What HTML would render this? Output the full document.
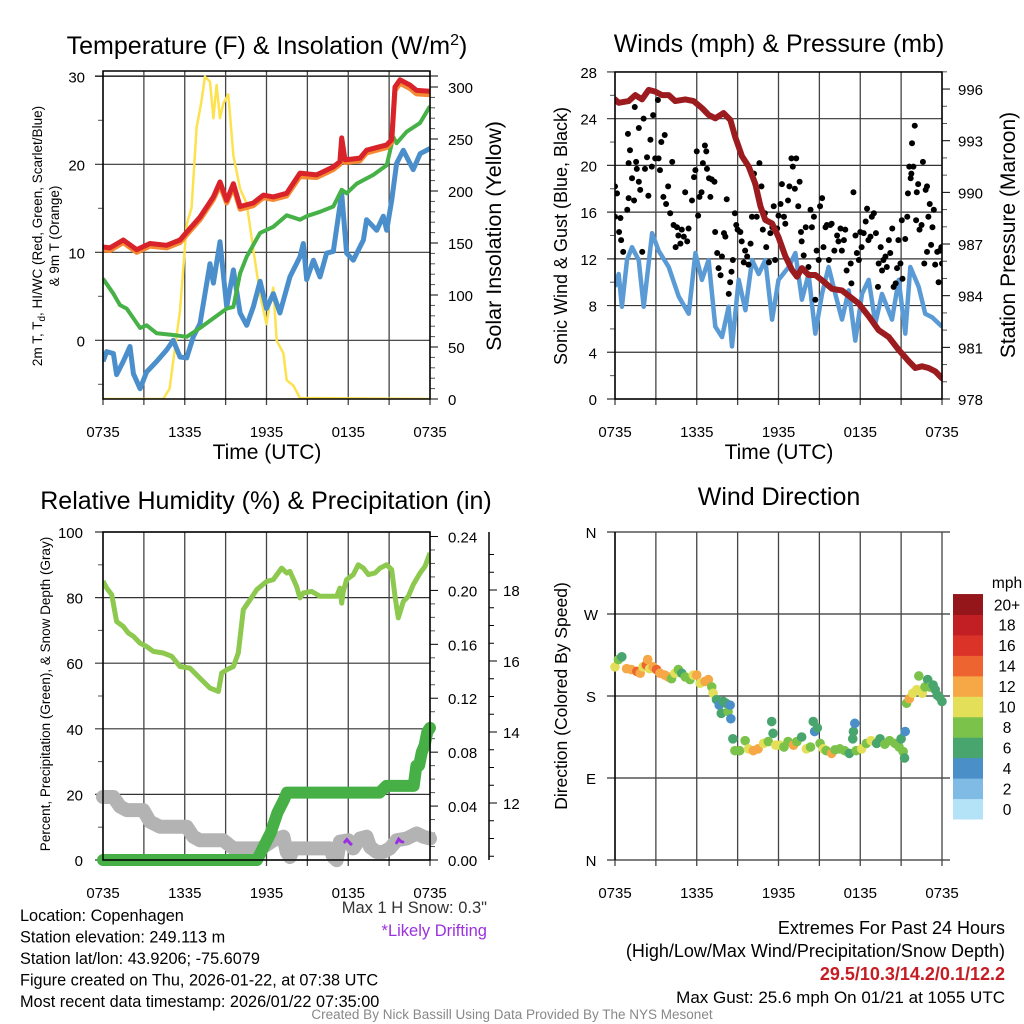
<!DOCTYPE html>
<html><head><meta charset="utf-8"><style>
html,body{margin:0;padding:0;background:#fff;}
svg{display:block;font-family:"Liberation Sans",Arial,sans-serif;}
</style></head><body>
<svg id="root" width="1024" height="1024" viewBox="0 0 1024 1024" xmlns="http://www.w3.org/2000/svg">
<rect x="0" y="0" width="1024" height="1024" fill="#fff"/>
</svg>
<script>
// ---------- DATA ----------
const xTickLabels = ["0735","1335","1935","0135","0735"];
// Panel 1 (hours since 0735)
const tempH = [0,0.51,1.49,2.47,3.45,4.67,5.65,6.14,7.12,8.1,8.59,9.08,9.57,10.06,11.03,11.77,12.5,13.48,14.46,15.68,16.9,17.39,17.52,17.76,18.86,19.35,20.82,21.19,21.43,21.8,22.53,23.02,24];
const tempV = [10.6,10.5,11.4,10.3,11,10.8,11.4,12.3,14,16.3,18,15.9,17.8,15.2,15.6,16.5,16.3,16.7,19,18.8,19.7,20.3,23,20.5,20.7,21.6,22.2,22.8,28.8,29.6,29,28.4,28.3];
const temp9mV = [10.3,10.2,11.1,10.0,10.7,10.5,11.1,12.0,13.7,16.0,17.6,15.6,17.4,14.9,15.3,16.2,16.0,16.4,18.6,18.5,19.4,20.0,22.4,20.2,20.4,21.3,21.9,22.5,28.4,29.2,28.6,28.0,27.9];
const dewH = [0,0.76,1.25,1.74,2.72,3.2,3.94,5.16,6.14,7.12,8.1,9.08,9.57,10.06,10.55,11.53,12.5,13.48,14.46,14.95,15.93,16.9,17.52,17.88,18.62,19.84,20.82,21.31,21.55,22.29,23.27,24];
const dewV = [7.0,5.3,4.0,3.6,1.4,1.7,0.8,0.6,0.4,1.4,2.5,3.6,3.8,7.6,9.5,12.2,12.9,14.2,13.7,14.1,14.6,15.2,17.1,16.7,17.8,18.8,19.9,23.1,22.4,23.7,24.7,26.6];
const wcH = [0,0.27,0.76,1.0,1.49,1.98,2.23,2.72,3.2,3.94,4.67,5.16,5.65,6.14,6.63,7.12,7.85,8.1,8.59,9.08,9.57,10.06,10.55,11.03,11.53,12.0,12.5,12.98,13.72,14.46,14.7,14.95,15.44,15.93,16.41,16.9,17.52,17.88,18.37,19.11,19.35,20.09,20.57,20.82,21.19,21.55,22.04,22.77,23.27,24];
const wcV = [-2.4,-1.3,-1.5,-3.9,-2.4,-0.7,-3.8,-5.5,-3.6,-2.4,-1.1,0,-1.9,-2.0,0.4,1.9,8.7,6.5,11.2,3.8,8,3.1,1.7,3.8,6.7,3.6,5.3,3.1,7.2,9.5,11,6.9,9.1,7.2,9.9,10.1,16.7,9.9,9.1,11.4,13.7,12.5,14.1,12.5,15.9,20.1,21.6,19.4,21.2,21.8];
const solarH = [0,4.42,4.89,5.16,5.65,6.14,6.5,6.87,7.24,7.48,7.85,8.1,8.34,8.59,8.83,9.2,9.57,10.06,10.55,11.03,11.53,12.0,12.26,12.5,12.75,13.24,13.48,13.97,14.46,24];
const solarV = [0,0,10,37,85,168,184,261,287,310,305,270,302,270,284,293,234,202,188,144,100,72,94,107,56,44,18,13,1,0];
// Panel 2
const windH = [0,0.27,0.51,0.88,1.25,1.74,2.11,2.72,3.2,3.94,4.67,5.41,5.9,6.38,6.87,7.36,7.85,8.34,8.59,9.08,9.57,10.06,10.55,11.03,11.53,12.0,12.75,13.24,13.72,14.21,14.7,15.19,15.68,16.17,16.66,17.15,17.64,18.13,18.62,19.11,19.6,20.33,20.82,21.31,21.67,22.29,22.77,23.27,24];
const windV = [9.6,10.7,7.9,11.9,13,11.9,7.9,14.2,12.7,11.3,8.8,7.3,12.5,10.2,11.9,6.2,5.3,7.9,4.5,10.2,7.6,11.9,10.7,11.9,6.8,10.2,11.3,12.5,8.5,10.7,5.6,9,11.3,9,6.8,9.3,5,9,10.2,6.5,9,6.8,10.2,5.6,11.3,9.6,7.3,7,6.2];
const gustH = [0,0.15,0,0.4,0.3,0.45,0.6,0.9,1.0,1.0,1.1,0.95,1.25,1.4,1.45,1.55,1.6,1.75,1.85,1.75,2.0,2.1,2.2,2.35,2.45,2.6,2.7,2.8,2.95,3.15,3.2,3.3,3.4,3.55,3.65,3.75,3.9,4.05,4.2,4.3,4.45,4.55,4.65,4.8,4.9,5.05,5.15,5.3,5.4,5.65,5.8,5.9,6.0,6.1,6.2,6.35,6.45,6.6,6.7,6.75,6.9,7.0,7.1,7.3,7.35,7.5,7.6,7.75,7.85,8.0,8.1,8.2,8.35,8.45,8.55,8.65,8.8,8.9,9.0,9.2,9.3,9.45,9.55,9.7,9.8,9.95,10.05,10.2,10.3,10.4,10.6,10.75,10.85,11.0,11.1,11.3,11.4,11.55,11.65,11.75,11.9,12.0,12.15,12.25,12.4,12.5,12.7,12.8,12.95,13.05,13.2,13.3,13.45,13.55,13.65,13.7,13.85,14.0,14.2,14.35,14.45,14.6,14.7,14.8,14.95,15.05,15.2,15.3,15.45,15.55,15.7,15.8,15.9,16.1,16.3,16.4,16.55,16.65,16.8,16.9,17.0,17.3,17.35,17.5,17.65,17.75,17.9,18.0,18.1,18.25,18.4,18.5,18.6,18.75,18.85,19.0,19.15,19.3,19.35,19.5,19.6,19.7,19.85,19.95,20.1,20.2,20.35,20.45,20.6,20.7,20.8,20.95,21.05,21.1,21.3,21.45,21.5,21.6,21.7,21.75,21.8,21.9,22.0,22.1,22.15,22.25,22.35,22.5,22.6,22.7,22.8,22.9,22.9,23.0,23.1,23.2,23.3,23.4,23.5,23.65,23.75,23.85,23.95,24];
const gustV = [18.2,17.6,15.6,15.5,14.3,13.6,12.6,16.2,17.2,20.2,21.3,22.7,18.9,17,25,20.3,19.7,18.6,17.9,23.2,12.6,24,19.7,20.7,17.4,22.2,19.9,24.3,20.6,25.6,20.6,19.6,22,17.3,22.6,16.7,18.2,15.9,20.3,14.9,13,14.7,14,13.3,14.5,13.9,17.7,13.5,14.6,17,19,19.6,21.2,15.7,17.3,17.7,20.2,21.7,21.2,19.7,18.9,17.3,18.8,18.6,14.3,12.5,11.2,10.6,12.2,14.2,13.9,17.1,9,10,10.9,11.9,15.9,14.9,14.5,14.3,13.5,11.7,12.7,12.2,11.5,13.3,15.6,19.3,18.4,15.6,20.2,18.2,14.5,15.9,13,11.7,14.2,14.7,16.5,11.9,14.6,15.7,16.7,18.4,15.6,15,17,18.2,20.6,19.9,18,20.6,16.5,18.6,14.3,13.5,12.3,14.7,11.3,16.2,14.7,15.6,8.5,12.7,11.9,16.5,17.2,13,14.7,14.9,11.9,14.9,15,12.7,14,13.5,14.6,12.7,13.6,14.5,11,11.6,9.9,17.7,14,12.5,11.9,14.3,13,14.2,15.2,16.3,13.6,13.9,15.6,15.9,14.2,9.6,11.6,13,11,11.9,12.2,11.3,13.6,12.5,14.6,9.6,9.9,11.2,13.6,11.6,15.3,10.3,13.7,15.6,17.6,19.9,18.9,19.3,21.9,19.9,23.4,15.3,17.7,18.4,14.5,14.9,20.3,11.6,17.9,12.6,18.2,15.6,16.7,13.2,14.7,16.2,11.5,12.6,10,12.7,13,11.6];
const presH = [0,0.27,1.0,1.49,1.98,2.47,2.96,3.45,3.94,4.42,5.16,5.77,6.38,6.87,7.36,7.97,8.47,8.83,9.32,9.81,10.3,10.67,11.03,11.53,12.0,12.5,12.99,13.36,13.72,14.21,14.7,15.19,15.93,16.66,17.15,17.88,18.62,19.35,20.09,20.82,21.55,22.04,22.53,23.02,23.51,24];
const presV = [995.4,995.2,995.3,995.65,995.4,995.95,995.85,995.65,995.65,995.3,995.4,995.3,994.9,994.5,994.3,994.6,994.2,993.2,992.1,991.5,990.5,989.2,988.4,988.2,987.4,986.3,985.5,985.1,985.6,985.2,985.2,984.9,984.4,984.3,984.0,983.55,982.8,982.0,981.6,980.85,980.2,979.8,979.9,979.8,979.6,979.2];
// Panel 3
const rhH = [0,0.27,0.64,1.0,1.49,1.86,2.23,2.72,3.2,3.69,4.42,5.04,5.65,6.38,7.12,7.85,8.47,8.71,9.08,9.57,9.93,10.3,10.79,11.28,12.0,12.5,13.11,13.48,13.72,14.21,14.46,14.7,15.31,15.93,16.66,17.15,17.39,17.52,17.64,17.88,18.37,18.74,19.11,19.48,19.96,20.33,20.82,21.19,21.43,21.67,22.04,22.41,22.77,23.27,23.63,24];
const rhV = [85,82.9,80.9,72.7,71.2,69.2,68.2,66.1,65.1,63.6,63.1,62.1,59,58.5,55.4,52.4,51.4,57,58,59,63.1,76.3,79.3,82.4,84.9,85.5,89,87.5,88,83.4,79.9,81.4,81.9,80.4,80.4,80.4,82.9,78.3,81.9,85.5,87,90,89,87,87.5,89,90,88.5,80.4,73.8,78.8,80.4,83.9,87.5,89.5,93.6];
const precipH = [0,11.3,11.8,12.3,12.8,13.3,13.5,20.3,20.8,22.8,23.0,23.2,23.4,23.6,23.8,24];
const precipV = [0,0,0.01,0.02,0.035,0.045,0.05,0.05,0.055,0.055,0.07,0.07,0.08,0.085,0.095,0.098];
const snowH = [0,0.76,1.25,1.74,2.96,3.45,4.18,6.14,6.63,7.12,8.83,9.57,11.53,11.77,12.5,13.24,13.48,13.72,13.97,16.66,16.9,17.15,17.39,18.0,18.37,18.86,19.35,19.6,20.09,20.57,21.06,21.55,22.29,23.02,23.51,24];
const snowV = [12.17,12.17,11.90,11.80,11.80,11.47,11.33,11.33,11.05,10.95,10.95,10.72,10.72,10.76,10.95,11.05,10.62,10.48,10.72,10.72,10.48,10.39,10.91,10.95,10.72,11.0,11.05,10.76,10.62,10.62,10.72,10.95,11.0,11.14,11.05,11.0];
const driftH = [[17.75,17.9,18.05,18.2],[21.55,21.7,21.85,22.0]];
const driftV = [[10.9,10.97,10.9,10.84],[10.88,10.98,10.92,10.9]];
// Panel 4
const dirH = [0,0.25,0.5,0.85,1.2,1.6,1.85,2.05,2.3,2.4,2.55,2.8,3.05,3.3,3.65,3.9,4.15,4.4,4.65,4.9,5.15,5.5,5.75,6.0,6.25,6.6,6.85,7.1,7.2,7.45,7.65,7.8,7.95,8.15,8.3,8.45,8.5,8.65,8.8,9.15,9.55,9.8,10.15,10.5,10.9,11.25,11.5,11.6,11.8,12.1,12.4,12.7,13.1,13.35,13.7,14.05,14.35,14.55,14.65,14.85,15.05,15.3,15.5,15.9,16.15,16.5,16.85,17.2,17.45,17.5,17.6,17.7,18.1,18.45,18.8,19.2,19.45,19.8,20.15,20.55,20.85,21.0,21.15,21.25,21.3,21.4,21.6,21.85,22.15,22.3,22.55,22.75,22.95,23.1,23.35,23.5,23.65,23.8,24];
const dirV = [212,220,223,210,209,207,205,212,214,220,210,212,209,205,203,201,199,205,209,205,201,198,203,203,194,196,198,190,183,176,170,161,174,172,163,170,155,133,120,120,131,122,120,122,128,130,152,139,126,126,124,130,126,130,135,122,124,152,141,145,128,122,120,117,121,122,120,117,133,141,150,120,122,128,131,128,133,127,131,128,124,133,119,112,141,172,177,183,187,202,183,190,198,190,192,187,181,179,174];
const dirS = [10,8,7,12,12,14,12,10,14,12,10,12,14,12,12,12,8,10,8,7,8,8,10,13,10,12,12,8,10,7,4,6,6,6,8,4,4,6,8,9,8,10,12,13,10,8,6,6,10,10,8,9,13,8,7,10,9,6,4,6,8,10,9,12,8,8,8,7,6,6,4,8,10,9,10,7,6,8,8,8,8,6,8,6,4,8,13,10,10,8,10,8,7,8,6,7,6,6,6];
const cbLabels = ["0","2","4","6","8","10","12","14","16","18","20+"];
const cbColors = ["#b4e3f7","#7fbbe5","#4a8fc8","#48a56e","#7bc24a","#e4df58","#f6a846","#ee6431","#dc3328","#c11f24","#94151a"];

// ---------- HELPERS ----------
const NS="http://www.w3.org/2000/svg";
const root=document.getElementById('root');
function mk(tag,attrs,parent){const e=document.createElementNS(NS,tag);for(const k in attrs)e.setAttribute(k,attrs[k]);(parent||root).appendChild(e);return e;}
function txt(s,attrs,parent){const e=mk('text',attrs,parent);e.textContent=s;return e;}
function pathFrom(H,V,xf,yf){let d='';for(let i=0;i<H.length;i++){d+=(i?'L':'M')+xf(H[i]).toFixed(1)+','+yf(V[i]).toFixed(1);}return d;}

function panel(id,x0,x1,yT,yB){
  const g=mk('g',{});
  
  
  const cp=mk('clipPath',{id:id+'-clip'},g);
  mk('rect',{x:x0,y:yT,width:x1-x0,height:yB-yT},cp);
  return g;
}
function xaxis(g,x0,x1,yT,yB,showLabels){
  const xs=h=>x0+h*(x1-x0)/24;
  for(let h=0;h<=24;h+=3){
    const l=mk('line',{x1:xs(h),x2:xs(h),y1:yT,y2:yB+6,stroke:'#444','stroke-width':1.3},g);
    
    
  }
  if(showLabels){
    for(let i=0;i<xTickLabels.length;i++){
      const t=txt(xTickLabels[i],{x:xs(i*6),y:yB+38,'text-anchor':'middle','font-size':15},g);
      
      
    }
  }
  return xs;
}
function frame(g,x0,x1,yT,yB){
  const r=mk('rect',{x:x0,y:yT,width:x1-x0,height:yB-yT,fill:'none',stroke:'#000','stroke-width':1.5},g);
  
  
}

// ---------- PANEL 1 ----------
(function(){
  const x0=103,x1=430,yT=71,yB=399;
  const g=panel('temperature',x0,x1,yT,yB);
  const yL=v=>340.3-8.8*v, yR=v=>399-1.04*v;
  for(let v=0;v<=30;v+=10){const l=mk('line',{x1:x0-8,x2:x1,y1:yL(v),y2:yL(v),stroke:'#333','stroke-width':1.2},g);
    
    const t=txt(String(v),{x:x0-18,y:yL(v)+6,'text-anchor':'end','font-size':15},g);
    }
  for(let v=-5;v<=25;v+=10){mk('line',{x1:x0-5,x2:x0,y1:yL(v),y2:yL(v),stroke:'#555'},g);}
  for(let v=0;v<=300;v+=50){mk('line',{x1:x1,x2:x1+8,y1:yR(v),y2:yR(v),stroke:'#000'},g);
    const t=txt(String(v),{x:x1+18,y:yR(v)+6,'font-size':15},g);
    }
  for(let v=10;v<=300;v+=10){if(v%50)mk('line',{x1:x1,x2:x1+5,y1:yR(v),y2:yR(v),stroke:'#555'},g);}
  mk('line',{x1:x0-8,x2:x1+8,y1:76,y2:76,stroke:'#000'},g);
  const xs=xaxis(g,x0,x1,yT,yB,true);
  const cg=mk('g',{'clip-path':'url(#temperature-clip)'},g);
  const s1=mk('path',{d:pathFrom(solarH,solarV,xs,yR),fill:'none',stroke:'#fde24f','stroke-width':2.5,'stroke-linejoin':'round'},cg);
  
  const s2=mk('path',{d:pathFrom(wcH,wcV,xs,yL),fill:'none',stroke:'#4a8fcb','stroke-width':5,'stroke-linejoin':'round'},cg);
  
  const s3=mk('path',{d:pathFrom(dewH,dewV,xs,yL),fill:'none',stroke:'#45b146','stroke-width':4,'stroke-linejoin':'round'},cg);
  
  const s4=mk('path',{d:pathFrom(tempH,temp9mV,xs,yL),fill:'none',stroke:'#f58a33','stroke-width':5,'stroke-linejoin':'round'},cg);
  
  const s5=mk('path',{d:pathFrom(tempH,tempV,xs,yL),fill:'none',stroke:'#d8232a','stroke-width':5,'stroke-linejoin':'round'},cg);
  
  frame(g,x0,x1,yT,yB);
  const t1=mk('text',{x:267,y:54,'text-anchor':'middle','font-size':25},g);
  t1.innerHTML='Temperature (F) &amp; Insolation (W/m<tspan dy="-9" font-size="16">2</tspan><tspan dy="9">)</tspan>';
  
  const a=txt('Time (UTC)',{x:267,y:459,'text-anchor':'middle','font-size':21},g);
  
  const yt=mk('text',{transform:'translate(42,236) rotate(-90)','text-anchor':'middle','font-size':13.5},g);
  yt.innerHTML='2m T, T<tspan dy="3" font-size="10">d</tspan><tspan dy="-3">, HI/WC (Red, Green, Scarlet/Blue)</tspan>';
  
  const yt2=txt('& 9m T (Orange)',{transform:'translate(59,236) rotate(-90)','text-anchor':'middle','font-size':13.5},g);
  
  const yr=txt('Solar Insolation (Yellow)',{transform:'translate(501,236) rotate(-90)','text-anchor':'middle','font-size':21.5},g);
  
})();

// ---------- PANEL 2 ----------
(function(){
  const x0=615,x1=942,yT=72,yB=399;
  const g=panel('winds',x0,x1,yT,yB);
  const yL=v=>399-11.68*v, yR=p=>399-(p-978)*17.22;
  for(let v=0;v<=28;v+=4){const l=mk('line',{x1:x0-8,x2:x1,y1:yL(v),y2:yL(v),stroke:'#333','stroke-width':1.2},g);
    
    const t=txt(String(v),{x:x0-18,y:yL(v)+6,'text-anchor':'end','font-size':15},g);
    }
  for(let v=2;v<28;v+=4){mk('line',{x1:x0-5,x2:x0,y1:yL(v),y2:yL(v),stroke:'#555'},g);}
  for(let p=978;p<=996;p+=3){mk('line',{x1:x1,x2:x1+8,y1:yR(p),y2:yR(p),stroke:'#000'},g);
    const t=txt(String(p),{x:x1+16,y:yR(p)+6,'font-size':15},g);
    }
  for(let p=979;p<=997;p++){if((p-978)%3)mk('line',{x1:x1,x2:x1+5,y1:yR(p),y2:yR(p),stroke:'#555'},g);}
  const xs=xaxis(g,x0,x1,yT,yB,true);
  const cg=mk('g',{'clip-path':'url(#winds-clip)'},g);
  const w=mk('path',{d:pathFrom(windH,windV,xs,yL),fill:'none',stroke:'#5b9bd5','stroke-width':4.5,'stroke-linejoin':'round'},cg);
  
  for(let i=0;i<gustH.length;i++){
    const c=mk('circle',{cx:xs(gustH[i]),cy:yL(gustV[i]),r:3,fill:'#000'},cg);
    
    
  }
  const p=mk('path',{d:pathFrom(presH,presV,xs,yR),fill:'none',stroke:'#9b1b1e','stroke-width':6,'stroke-linejoin':'round','stroke-linecap':'round'},cg);
  
  frame(g,x0,x1,yT,yB);
  const t1=txt('Winds (mph) & Pressure (mb)',{x:779,y:52,'text-anchor':'middle','font-size':25},g);
  
  const a=txt('Time (UTC)',{x:779,y:459,'text-anchor':'middle','font-size':21},g);
  
  const yl=txt('Sonic Wind & Gust (Blue, Black)',{transform:'translate(567,236) rotate(-90)','text-anchor':'middle','font-size':18},g);
  
  const yr=txt('Station Pressure (Maroon)',{transform:'translate(1015,235) rotate(-90)','text-anchor':'middle','font-size':21},g);
  
})();

// ---------- PANEL 3 ----------
(function(){
  const x0=103,x1=430,yT=532,yB=860;
  const g=panel('humidity',x0,x1,yT,yB);
  const yL=v=>860-3.28*v, yP=r=>860-r*1348, yS=s=>803-(s-12)*35.5;
  for(let v=0;v<=100;v+=20){const l=mk('line',{x1:x0-8,x2:x1,y1:yL(v),y2:yL(v),stroke:'#333','stroke-width':1.2},g);
    
    const t=txt(String(v),{x:x0-20,y:yL(v)+6,'text-anchor':'end','font-size':15},g);
    }
  for(let v=10;v<100;v+=20){mk('line',{x1:x0-5,x2:x0,y1:yL(v),y2:yL(v),stroke:'#555'},g);}
  const rl=['0.00','0.04','0.08','0.12','0.16','0.20','0.24'];
  for(let i=0;i<rl.length;i++){const y=yP(i*0.04);mk('line',{x1:x1,x2:x1+8,y1:y,y2:y,stroke:'#000'},g);
    const t=txt(rl[i],{x:x1+18,y:y+6,'font-size':15},g);
    }
  for(let r=0.01;r<0.245;r+=0.01){if(Math.round(r*100)%4)mk('line',{x1:x1,x2:x1+5,y1:yP(r),y2:yP(r),stroke:'#555'},g);}
  const ax=mk('line',{x1:489,x2:489,y1:532,y2:860,stroke:'#000','stroke-width':1.5},g);
  
  for(let s=10.5;s<=19.2;s+=0.5){const maj=(s%2===0);mk('line',{x1:489,x2:maj?497:494,y1:yS(s),y2:yS(s),stroke:'#000'},g);
    if(maj){const t=txt(String(s),{x:503,y:yS(s)+6,'font-size':15},g);
      }}
  const xs=xaxis(g,x0,x1,yT,yB,true);
  const cg=mk('g',{'clip-path':'url(#humidity-clip)'},g);
  const sn=mk('path',{d:pathFrom(snowH,snowV,xs,yS),fill:'none',stroke:'#b3b3b3','stroke-width':14,'stroke-linejoin':'round','stroke-linecap':'round'},g);
  
  const pr=mk('path',{d:pathFrom(precipH,precipV,xs,yP),fill:'none',stroke:'#46b047','stroke-width':12,'stroke-linejoin':'round','stroke-linecap':'round'},g);
  
  for(let k=0;k<driftH.length;k++){
    const d=mk('path',{d:pathFrom(driftH[k],driftV[k],xs,yS),fill:'none',stroke:'#9b30e0','stroke-width':3,'stroke-linecap':'round'},g);
    
    
  }
  const rh=mk('path',{d:pathFrom(rhH,rhV,xs,yL),fill:'none',stroke:'#8dc84f','stroke-width':5,'stroke-linejoin':'round'},cg);
  
  frame(g,x0,x1,yT,yB);
  const t1=txt('Relative Humidity (%) & Precipitation (in)',{x:266,y:509,'text-anchor':'middle','font-size':25},g);
  
  const yl=txt('Percent, Precipitation (Green), & Snow Depth (Gray)',{transform:'translate(50,694) rotate(-90)','text-anchor':'middle','font-size':13.5},g);
  
})();

// ---------- PANEL 4 ----------
(function(){
  const x0=615,x1=942,yT=532,yB=860;
  const g=panel('direction',x0,x1,yT,yB);
  const yD=d=>860-d*0.9111;
  const dl=['N','E','S','W','N'];
  for(let i=0;i<dl.length;i++){const y=yD(i*90);
    const l=mk('line',{x1:x0-8,x2:x1+8,y1:y,y2:y,stroke:'#333','stroke-width':1.2},g);
    
    const t=txt(dl[i],{x:591,y:y+6,'text-anchor':'middle','font-size':15},g);
    }
  const xs=xaxis(g,x0,x1,yT,yB,true);
  mk('line',{x1:x0,x2:x0,y1:yT,y2:yB,stroke:'#000','stroke-width':1.5},g);
  for(let i=0;i<dirH.length;i++){
    const bin=Math.min(10,Math.floor(dirS[i]/2));
    const c=mk('circle',{cx:xs(dirH[i]),cy:yD(dirV[i]),r:4.8,fill:cbColors[bin]},g);
    
    
  }
  const t1=txt('Wind Direction',{x:779,y:505,'text-anchor':'middle','font-size':25},g);
  
  const yl=txt('Direction (Colored By Speed)',{transform:'translate(567,696) rotate(-90)','text-anchor':'middle','font-size':17.5},g);
  
  const lg=mk('g',{},g);
  
  const bh=20.45;
  for(let i=0;i<cbLabels.length;i++){
    const y=819-(i+1)*bh;
    const r=mk('rect',{x:953,y:y,width:30,height:bh+0.5,fill:cbColors[i]},lg);
    
    const t=txt(cbLabels[i],{x:1007,y:y+bh/2+6,'text-anchor':'middle','font-size':15.5},lg);
    
  }
  const u=txt('mph',{x:1007,y:588,'text-anchor':'middle','font-size':15.5},lg);
  
})();

// ---------- FOOTER TEXT ----------
const leftLines=['Location: Copenhagen','Station elevation: 249.113 m','Station lat/lon: 43.9206; -75.6079','Figure created on Thu, 2026-01-22, at 07:38 UTC','Most recent data timestamp: 2026/01/22 07:35:00'];
for(let i=0;i<leftLines.length;i++){
  const t=txt(leftLines[i],{x:20,y:921+i*21.5,'font-size':16.3});
  
  
}
const f1=txt('Max 1 H Snow: 0.3"',{x:487,y:913,'text-anchor':'end','font-size':16.5,fill:'#333'});

const f2=txt('*Likely Drifting',{x:487,y:936,'text-anchor':'end','font-size':16.5,fill:'#9b30e0'});

const f3=txt('Extremes For Past 24 Hours',{x:1005,y:934,'text-anchor':'end','font-size':18});

const f4=txt('(High/Low/Max Wind/Precipitation/Snow Depth)',{x:1005,y:957,'text-anchor':'end','font-size':18});

const f5=txt('29.5/10.3/14.2/0.1/12.2',{x:1005,y:980,'text-anchor':'end','font-size':18,'font-weight':'bold',fill:'#c41e24'});

const f6=txt('Max Gust: 25.6 mph On 01/21 at 1055 UTC',{x:1005,y:1003,'text-anchor':'end','font-size':17});

const f7=txt('Created By Nick Bassill Using Data Provided By The NYS Mesonet',{x:512,y:1019,'text-anchor':'middle','font-size':13.5,fill:'#888'});

</script>
</body></html>
